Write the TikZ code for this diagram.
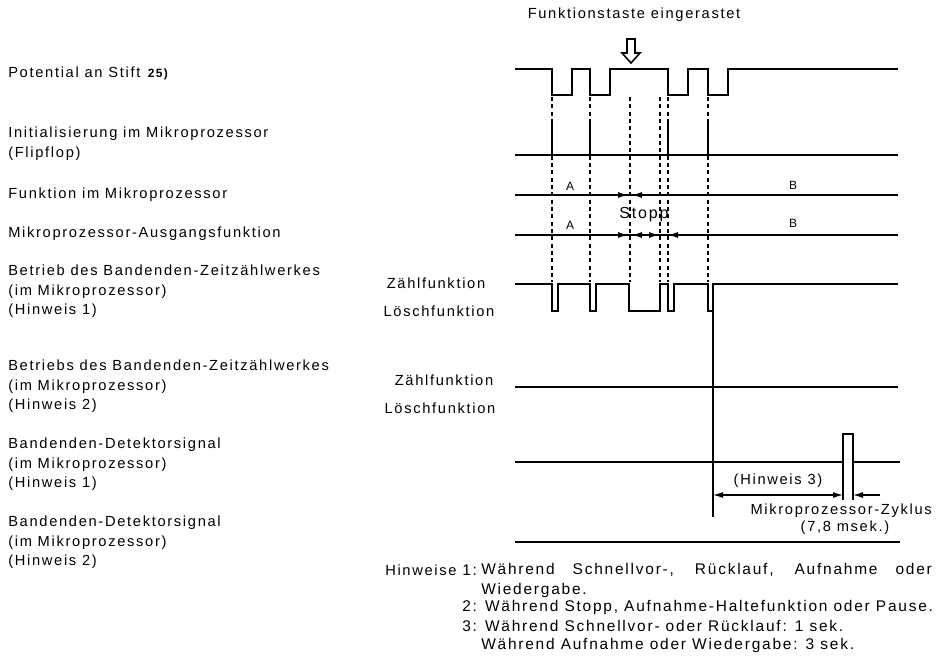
\documentclass[tikz,border=0pt]{standalone}
\usepackage{fontspec}
\setmainfont[LetterSpace=11.5]{Liberation Sans}
\usetikzlibrary{arrows.meta,positioning}

\tikzset{
  lbl/.style={anchor=north west, align=left, inner sep=0pt, font=\fontsize{11}{14.6}\selectfont},
  txt/.style={inner sep=0pt, font=\fontsize{11}{14.6}\selectfont},
  notetxt/.style={inner sep=0pt, anchor=west, font=\fontsize{11.6}{14.6}\selectfont},
  smalltxt/.style={inner sep=0pt, font=\fontsize{9}{11}\selectfont},
  wave/.style={line width=2pt, line join=miter},
  pulse/.style={line width=1.7pt},
  thinline/.style={line width=1pt},
  markline/.style={line width=0.8pt, dash pattern=on 3pt off 2.5pt},
  dim/.style={line width=0.9pt, -{Latex[length=7.5pt,width=4.5pt]}}
}

\begin{document}
\begin{tikzpicture}[x=0.75pt,y=-0.75pt]
  \useasboundingbox (0,0) rectangle (936,656);

  % Beschriftung links
  \node[lbl] (pot) at (8,67) {Potential an Stift \textbf{\small 25)}};
  \node[lbl] (init) at (8,127) {Initialisierung im Mikroprozessor\\(Flipflop)};
  \node[lbl] (funk) at (8,188) {Funktion im Mikroprozessor};
  \node[lbl] (ausg) at (8,227) {Mikroprozessor-Ausgangsfunktion};
  \node[lbl] (zw1) at (8,265) {Betrieb des Bandenden-Zeitzählwerkes\\(im Mikroprozessor)\\(Hinweis 1)};
  \node[lbl] (zw2) at (8,360) {Betriebs des Bandenden-Zeitzählwerkes\\(im Mikroprozessor)\\(Hinweis 2)};
  \node[lbl] (det1) at (8,438) {Bandenden-Detektorsignal\\(im Mikroprozessor)\\(Hinweis 1)};
  \node[lbl] (det2) at (8,516) {Bandenden-Detektorsignal\\(im Mikroprozessor)\\(Hinweis 2)};

  % Taste
  \node[txt] (taste) at (634,15) {Funktionstaste eingerastet};
  \draw[line width=1.2pt, line join=miter] (627,39) -- (635,39) -- (635,53) -- (640,53) -- (631,63)
    -- (622,53) -- (627,53) -- cycle;

  % Potential an Stift
  \draw[wave] (515,69) -| (552,95) -| (572,69) -| (590,95) -| (610,69) -| (668,95)
    -| (688,69) -| (708,95) -| (728,69) -- (898,69);

  % Markierungen
  \foreach \x in {552,590,630,660,668,708}
    \draw[markline] (\x,97) -- (\x,282);

  % Flipflop
  \draw[thinline] (515,155) -- (898,155);
  \foreach \x in {552,590,668,708}
    \draw[pulse] (\x,155) -- (\x,122);

  % Funktion im Mikroprozessor
  \draw[thinline] (515,195) -- (898,195);
  \coordinate (f1) at (628,195);
  \coordinate (f2) at (632,195);
  \draw[dim] (612,195) -- (f1);
  \draw[dim] (648,195) -- (f2);
  \node[smalltxt] (fa) at (570,186) {A};
  \node[smalltxt] (fb) at (793,185) {B};

  % Ausgangsfunktion
  \draw[thinline] (515,235) -- (898,235);
  \coordinate (s1) at (628,235);
  \coordinate (s2) at (632,235);
  \coordinate (s3) at (659,235);
  \coordinate (s4) at (668,235);
  \draw[dim] (612,235) -- (s1);
  \draw[dim] (646,235) -- (s2);
  \draw[dim] (645,235) -- (s3);
  \draw[dim] (684,235) -- (s4);
  \node[smalltxt] (aa) at (570,225) {A};
  \node[smalltxt] (ab) at (793,223) {B};
  \node[txt, font=\fontsize{12}{15}\selectfont] (stopp) at (644,215) {Stopp};

  % Zeitzählwerk, Hinweis 1
  \node[txt] (zf1) at (436,283) {Zählfunktion};
  \node[txt] (lf1) at (439,311) {Löschfunktion};
  \draw[wave] (515,284) -| (552,311) -| (558,284) -| (590,311) -| (596,284) -| (629,311)
    -| (660,284) -| (668,311) -| (674,284) -| (708,311) -| (713,284) -- (898,284);
  \coordinate (clr) at (713,311);
  \coordinate (clrend) at (713,517);
  \draw[thinline] (clr) -- (clrend);

  % Zeitzählwerk, Hinweis 2
  \node[txt] (zf2) at (444,380) {Zählfunktion};
  \node[txt] (lf2) at (440,408) {Löschfunktion};
  \draw[thinline] (515,387) -- (898,387);

  % Detektorsignal, Hinweis 1
  \draw[wave, line width=1.6pt] (515,462) -| (843,434) -| (853,462) -- (900,462);
  \coordinate (p1) at (843,500);
  \coordinate (p2) at (853,500);
  \draw[thinline] (843,462) -- (p1);
  \draw[thinline] (853,462) -- (p2);
  \coordinate (h1) at (713,495);
  \coordinate (h2) at (843,495);
  \coordinate (h3) at (853,495);
  \coordinate (h4) at (880,495);
  \draw[dim, {Latex[length=7.5pt,width=4.5pt]}-{Latex[length=7.5pt,width=4.5pt]}] (h1) -- (h2);
  \draw[dim] (h4) -- (h3);
  \node[txt] (hw3) at (778,481) {(Hinweis 3)};
  \node[txt, anchor=east] (zyk) at (932,511) {Mikroprozessor-Zyklus};
  \node[txt] (msek) at (845,528) {(7,8 msek.)};

  % Detektorsignal, Hinweis 2
  \draw[thinline] (515,542) -- (900,542);

  % Hinweise
  \node[notetxt, font=\fontsize{11}{14}\selectfont] (hws) at (385,570) {Hinweise};
  \node[notetxt] (n1) at (462,570) {1:};
  \node[notetxt] (n1a) at (481,570) {\makebox[338pt][s]{Während Schnellvor-, Rücklauf, Aufnahme oder}};
  \node[notetxt, below=4.5pt of n1a.south west, anchor=north west] (n1b) {Wiedergabe.};
  \node[notetxt] (n2) at (462,607) {2: Während Stopp, Aufnahme-Haltefunktion oder Pause.};
  \node[notetxt] (n3) at (462,626) {3: Während Schnellvor- oder Rücklauf: 1 sek.};
  \node[notetxt] (n3b) at (481,645) {Während Aufnahme oder Wiedergabe: 3 sek.};
\end{tikzpicture}
\end{document}
